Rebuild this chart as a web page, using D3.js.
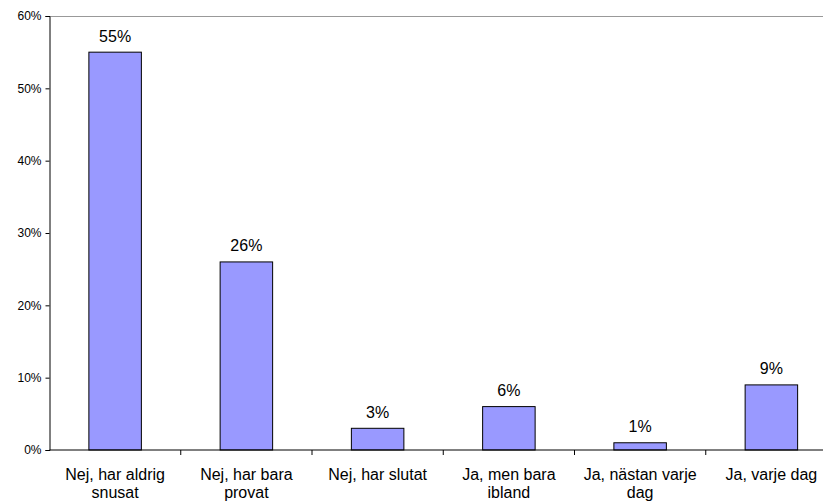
<!DOCTYPE html>
<html>
<head>
<meta charset="utf-8">
<script src="https://cdn.jsdelivr.net/npm/d3@7"></script>
<style>
  html, body { margin: 0; padding: 0; background: #fff; }
  svg { display: block; font-family: "Liberation Sans", Arial, sans-serif; }
</style>
</head>
<body>
<svg id="chart" width="823" height="501"></svg>
<script>
const categories = ["Nej, har aldrig snusat", "Nej, har bara provat", "Nej, har slutat", "Ja, men bara ibland", "Ja, nästan varje dag", "Ja, varje dag"];
const categoryLines = [["Nej, har aldrig", "snusat"], ["Nej, har bara", "provat"], ["Nej, har slutat"], ["Ja, men bara", "ibland"], ["Ja, nästan varje", "dag"], ["Ja, varje dag"]];
const values = [55, 26, 3, 6, 1, 9];
const yTicks = [0, 10, 20, 30, 40, 50, 60];

const svg = d3.select("#chart");
const mLeft = 49.5, mRight = 837, mTop = 16, mBottom = 450;

const x = d3.scaleBand().domain(categories).range([mLeft, mRight]).paddingInner(0.6).paddingOuter(0.3);
const y = d3.scaleLinear().domain([0, 60]).range([mBottom, mTop]);

// top border of plot area
svg.append("line").attr("x1", mLeft).attr("x2", mRight).attr("y1", mTop + 0.5).attr("y2", mTop + 0.5)
  .attr("stroke", "#999").attr("stroke-width", 1);

// bars
svg.selectAll("rect.bar").data(values).join("rect")
  .attr("class", "bar")
  .attr("x", (d, i) => x(categories[i]))
  .attr("y", d => y(d))
  .attr("width", x.bandwidth())
  .attr("height", d => y(0) - y(d))
  .attr("fill", "#9999FF").attr("stroke", "#000").attr("stroke-width", 1);

// value labels
svg.selectAll("text.val").data(values).join("text")
  .attr("class", "val")
  .attr("x", (d, i) => x(categories[i]) + x.bandwidth() / 2)
  .attr("y", d => y(d) - 10.5)
  .attr("text-anchor", "middle")
  .attr("font-size", 16).attr("fill", "#000")
  .text(d => d + "%");

// y axis
const yAxis = d3.axisLeft(y).tickValues(yTicks).tickFormat(d => d + "%").tickSize(4).tickPadding(4);
const ga = svg.append("g").attr("transform", "translate(" + mLeft + ",0)").call(yAxis);
ga.select(".domain").attr("stroke", "#000");
ga.selectAll(".tick line").attr("stroke", "#000");
ga.selectAll(".tick text").attr("font-size", 12).attr("font-family", "Liberation Sans, Arial, sans-serif").attr("fill", "#000");

// x axis baseline
svg.append("line").attr("x1", mLeft).attr("x2", mRight).attr("y1", y(0)).attr("y2", y(0))
  .attr("stroke", "#000").attr("stroke-width", 1);

// x category separators
const step = x.step();
const bounds = categories.map(c => x(c) + x.bandwidth() + (step - x.bandwidth()) / 2);
svg.selectAll("line.xt").data(bounds).join("line")
  .attr("class", "xt")
  .attr("x1", d => d).attr("x2", d => d)
  .attr("y1", y(0)).attr("y2", y(0) + 5)
  .attr("stroke", "#000");

// category labels
const lab = svg.selectAll("text.cat").data(categoryLines).join("text")
  .attr("class", "cat")
  .attr("text-anchor", "middle")
  .attr("font-size", 16).attr("fill", "#000");
lab.each(function(lines, i) {
  const cx = x(categories[i]) + x.bandwidth() / 2;
  d3.select(this).selectAll("tspan").data(lines).join("tspan")
    .attr("x", cx)
    .attr("y", (d, j) => 480 + j * 18)
    .text(d => d);
});
</script>
</body>
</html>
